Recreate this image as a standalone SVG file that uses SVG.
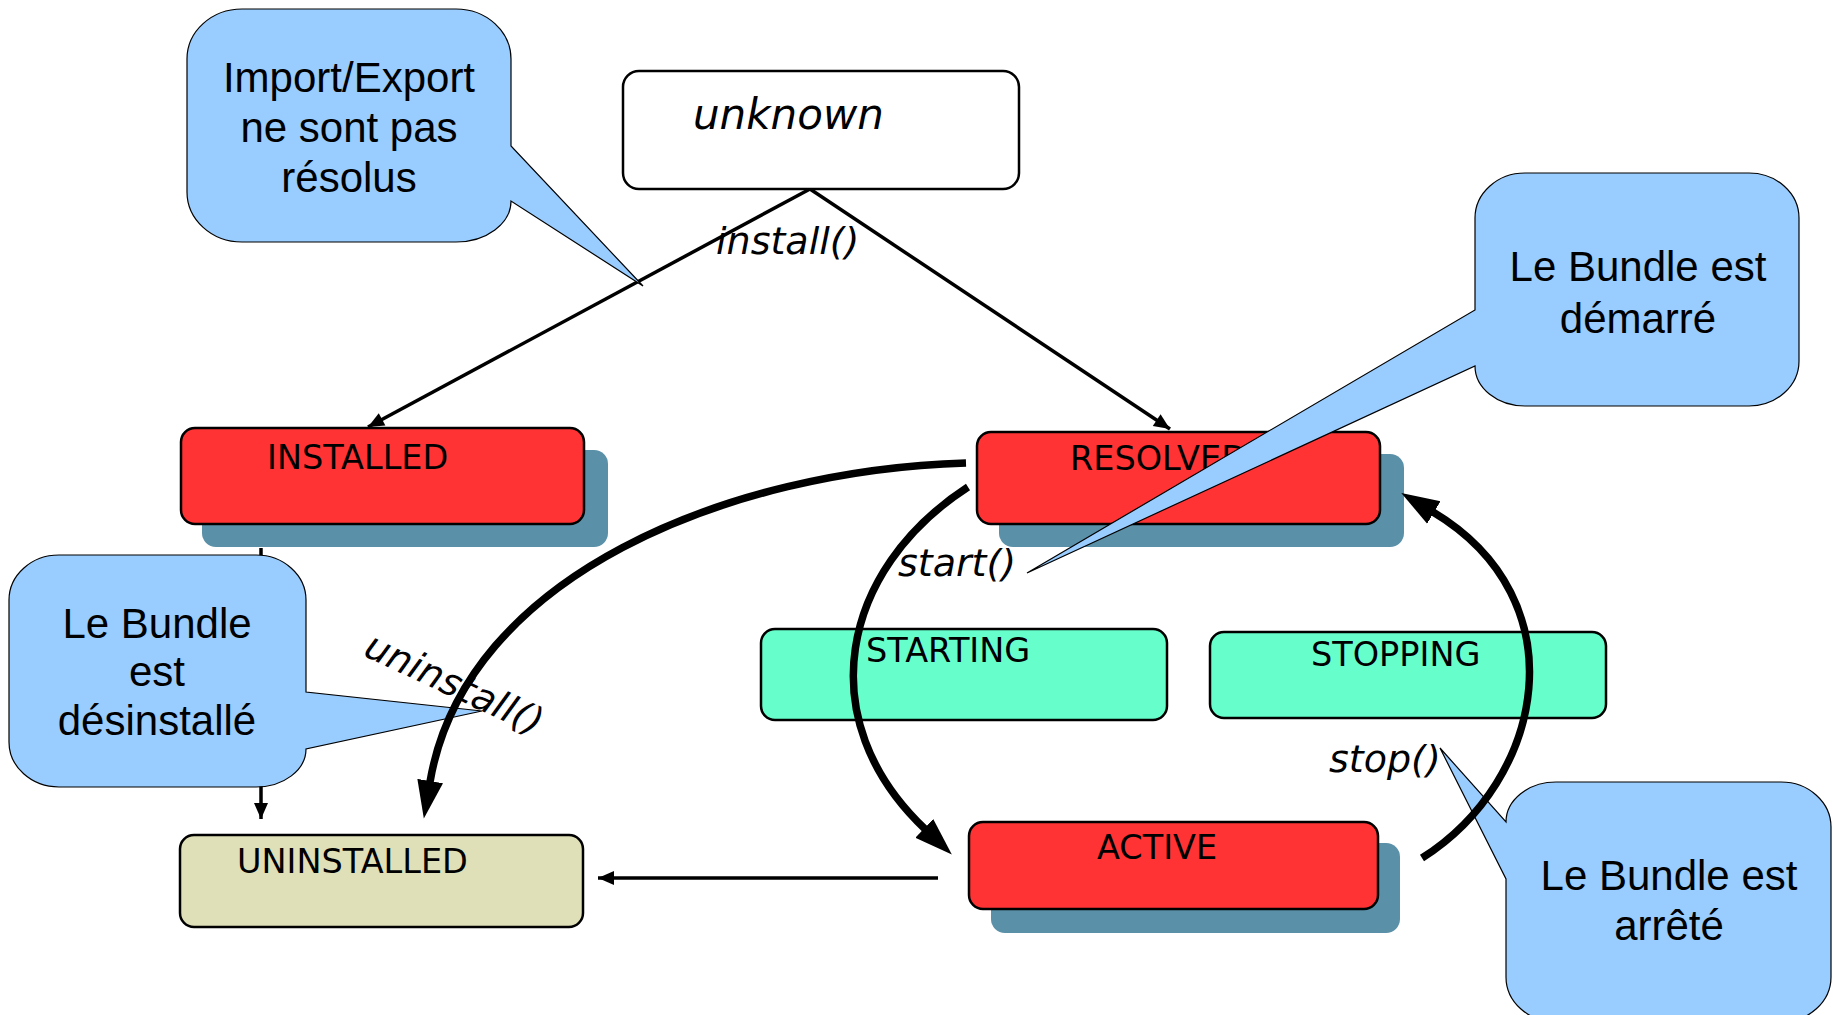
<svg xmlns="http://www.w3.org/2000/svg" width="1833" height="1015" viewBox="0 0 1833 1015">
<style>
.node{stroke:#000;stroke-width:2.5}
.red{fill:#FF3333}
.aqua{fill:#66FFCC}
.khaki{fill:#DFDFB8}
.white{fill:#FFFFFF}
.shadow{fill:#5A90A8}
.ntext{font-family:"DejaVu Sans",Verdana,sans-serif;font-size:33.5px;fill:#000}
.lbl{font-family:"DejaVu Sans",Verdana,sans-serif;font-style:italic;font-size:38px;fill:#000}
.thin{fill:none;stroke:#000;stroke-width:3.5}
.thick{fill:none;stroke:#000;stroke-width:7.5}
.callout{fill:#99CCFF;stroke:#000;stroke-width:1.2}
.ctext{font-family:"Liberation Sans",Arial,sans-serif;font-size:42px;fill:#000;text-anchor:middle}
</style>
<defs>
<marker id="small" markerUnits="userSpaceOnUse" markerWidth="20" markerHeight="16" viewBox="0 -8 18 16" refX="16" refY="0" orient="auto">
<path d="M0,-7 L16,0 L0,7 z" fill="#000"/>
</marker>
<marker id="big" markerUnits="userSpaceOnUse" markerWidth="40" markerHeight="30" viewBox="0 -15 40 30" refX="1" refY="0" orient="auto">
<path d="M0,-13 L38,0 L0,13 z" fill="#000"/>
</marker>
</defs>
<rect width="1833" height="1015" fill="#FFFFFF"/>

<g id="connectors">
<path class="thin" d="M810,189 L368,427" marker-end="url(#small)"/>
<path class="thin" d="M810,189 L1170,429" marker-end="url(#small)"/>
<path class="thin" d="M261,548 L261,819" marker-end="url(#small)"/>
<path class="thin" d="M938,878 L598,878" marker-end="url(#small)"/>
<text class="lbl" x="716" y="254">install()</text>
</g>

<g id="node-unknown">
<rect class="node white" x="623" y="71" width="396" height="118" rx="16"/>
<text x="693" y="129" font-family="DejaVu Sans, Verdana, sans-serif" font-style="italic" font-size="42" fill="#000">unknown</text>
</g>
<g id="node-installed">
<rect class="shadow" x="202" y="450" width="406" height="97" rx="14"/>
<rect class="node red" x="181" y="428" width="403" height="96" rx="14"/>
<text class="ntext" x="267" y="469">INSTALLED</text>
</g>
<g id="node-resolved">
<rect class="shadow" x="999" y="454" width="405" height="93" rx="14"/>
<rect class="node red" x="977" y="432" width="403" height="92" rx="14"/>
<text class="ntext" x="1070" y="470">RESOLVED</text>
</g>
<g id="node-starting">
<rect class="node aqua" x="761" y="629" width="406" height="91" rx="14"/>
<text class="ntext" x="866" y="662">STARTING</text>
</g>
<g id="node-stopping">
<rect class="node aqua" x="1210" y="632" width="396" height="86" rx="14"/>
<text class="ntext" x="1311" y="666">STOPPING</text>
</g>
<g id="node-uninstalled">
<rect class="node khaki" x="180" y="835" width="403" height="92" rx="14"/>
<text class="ntext" x="237" y="873">UNINSTALLED</text>
</g>
<g id="node-active">
<rect class="shadow" x="991" y="843" width="409" height="90" rx="14"/>
<rect class="node red" x="969" y="822" width="409" height="87" rx="14"/>
<text class="ntext" x="1097" y="859">ACTIVE</text>
</g>

<g id="callout-import">
<path class="callout" d="M242,9 H456 A55 50 0 0 1 511,59 V146 L643,286 L511,201 A55 41 0 0 1 456,242 H242 A55 50 0 0 1 187,192 V59 A55 50 0 0 1 242,9 Z"/>
<text class="ctext" x="349" y="92">Import/Export</text>
<text class="ctext" x="349" y="142">ne sont pas</text>
<text class="ctext" x="349" y="192">résolus</text>
</g>
<g id="callout-demarre">
<path class="callout" d="M1525,173 H1749 A50 45 0 0 1 1799,218 V361 A50 45 0 0 1 1749,406 H1525 A50 40 0 0 1 1475,366 L1027,573 L1475,310 V218 A50 45 0 0 1 1525,173 Z"/>
<text class="ctext" x="1638" y="281">Le Bundle est</text>
<text class="ctext" x="1638" y="333">démarré</text>
</g>
<g id="callout-desinstalle">
<path class="callout" d="M59,555 H256 A50 45 0 0 1 306,600 V692 L482,711 L306,749 A50 38 0 0 1 256,787 H59 A50 45 0 0 1 9,742 V600 A50 45 0 0 1 59,555 Z"/>
<text class="ctext" x="157" y="638">Le Bundle</text>
<text class="ctext" x="157" y="686">est</text>
<text class="ctext" x="157" y="735">désinstallé</text>
</g>
<g id="callout-arrete">
<path class="callout" d="M1556,782 H1781 A50 45 0 0 1 1831,827 V977 A50 45 0 0 1 1781,1022 H1556 A50 45 0 0 1 1506,977 V879 L1440,748 L1506,822 A50 40 0 0 1 1556,782 Z"/>
<text class="ctext" x="1669" y="890">Le Bundle est</text>
<text class="ctext" x="1669" y="940">arrêté</text>
</g>

<g id="transitions">
<path class="thick" d="M966,463 C730,470 465,575 430,782" marker-end="url(#big)"/>
<path class="thick" d="M968,487 C840,570 810,720 925,829" marker-end="url(#big)"/>
<path class="thick" d="M1422,858 C1545,780 1580,600 1433,512" marker-end="url(#big)"/>
<text class="lbl" x="898" y="576">start()</text>
<text class="lbl" x="1329" y="772">stop()</text>
<text class="lbl" transform="translate(362,655) rotate(25)">uninstall()</text>
</g>
</svg>
